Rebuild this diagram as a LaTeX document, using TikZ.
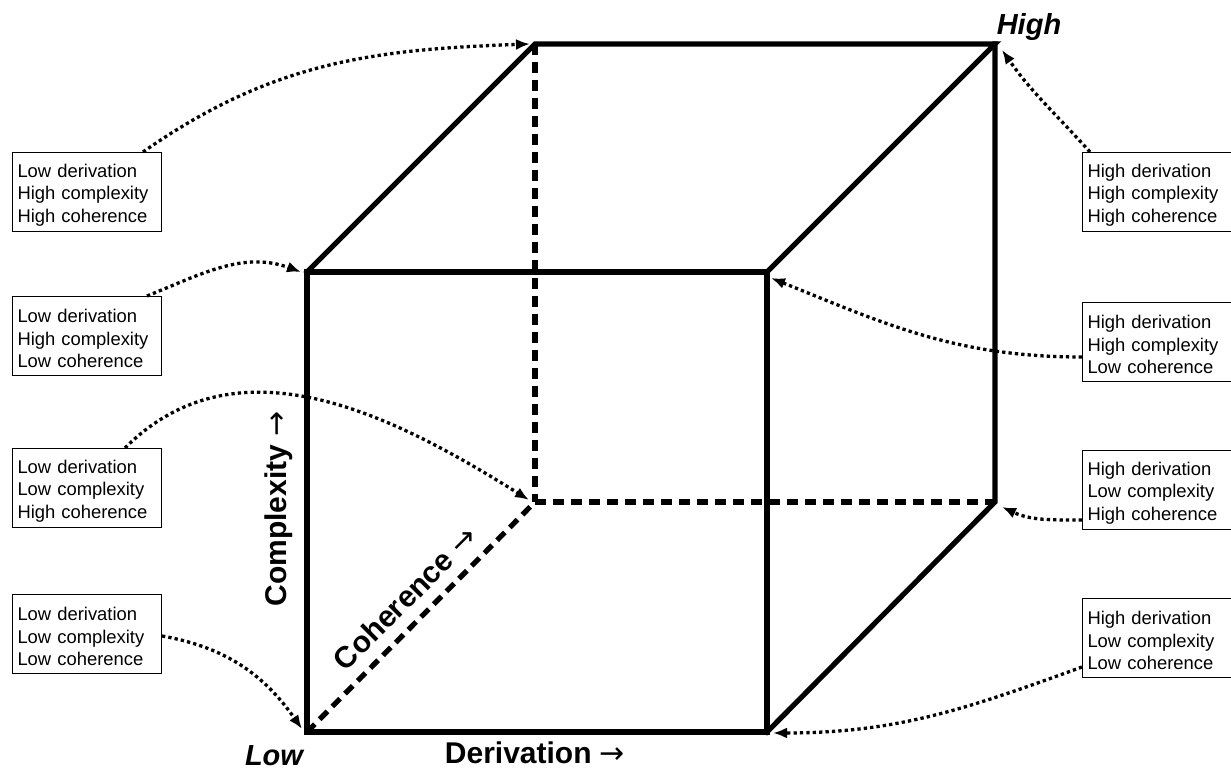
\documentclass[tikz,border=0pt]{standalone}
\usepackage{fontspec}
\setmainfont{Liberation Sans}
\newfontfamily\arrowfont{DejaVu Sans}
\usetikzlibrary{arrows.meta}
\newcommand{\toppad}{\rule{0pt}{19pt}}
\begin{document}
\begin{tikzpicture}[x=1pt,y=1pt,
  edge/.style={line width=5.2pt, line cap=rect, line join=miter},
  hidden/.style={line width=5.2pt, dash pattern=on 11pt off 7pt},
  infobox/.style={draw, line width=1pt, anchor=north west, minimum width=149pt, minimum height=79pt,
     inner xsep=5pt, inner ysep=0pt, align=left, text width=139pt,
     font=\fontsize{18.4}{22.5}\selectfont},
  pointer/.style={line width=3.3pt, dash pattern=on 3.3pt off 3.1pt,
     -{Latex[length=14pt,width=11pt]}},
  axis/.style={font=\fontsize{30}{32}\selectfont\bfseries, inner sep=1pt},
  extreme/.style={font=\fontsize{29}{31}\selectfont\bfseries\itshape, inner sep=1pt}]
\useasboundingbox (0,0) rectangle (1231,770);
% cube corners
\coordinate (A) at (307,38);
\coordinate (B) at (767,38);
\coordinate (C) at (307,498);
\coordinate (D) at (767,498);
\coordinate (E) at (535,726);
\coordinate (F) at (995,726);
\coordinate (G) at (535,268);
\coordinate (H) at (995,268);
% hidden edges
\draw[hidden] (E) -- (G);
\draw[hidden] (G) -- (H);
\draw[hidden] (A) -- (G);
% visible edges
\draw[edge] (A) -- (B) -- (D) -- (C) -- cycle;
\draw[edge] (C) -- (E) -- (F) -- (D);
\draw[edge] (F) -- (H) -- (B);
% boxes
\node[infobox] (b1) at (12,618) {\toppad Low derivation\\High complexity\\High coherence};
\node[infobox] (b2) at (12,474) {\toppad Low derivation\\High complexity\\Low coherence};
\node[infobox] (b3) at (12,322) {\toppad Low derivation\\Low complexity\\High coherence};
\node[infobox] (b4) at (12,176) {\toppad Low derivation\\Low complexity\\Low coherence};
\node[infobox] (r1) at (1082,618) {\toppad High derivation\\High complexity\\High coherence};
\node[infobox] (r2) at (1082,468) {\toppad High derivation\\High complexity\\Low coherence};
\node[infobox] (r3) at (1082,320) {\toppad High derivation\\Low complexity\\High coherence};
\node[infobox] (r4) at (1082,172) {\toppad High derivation\\Low complexity\\Low coherence};
% labels
\node[axis, rotate=90] (lcomp) at (279,261) {Complexity {\arrowfont\mdseries →}};
\node[axis, rotate=45] (lcoh) at (405,172) {Coherence {\arrowfont\mdseries →}};
\node[axis, anchor=base] (lder) at (535,6) {Derivation {\arrowfont\mdseries →}};
\node[extreme, anchor=base] (llow) at (274,4) {Low};
\node[extreme] (lhigh) at (1029,743) {High};
% pointer target coordinates
\coordinate (tE) at (530,726);
\coordinate (tC) at (301,498);
\coordinate (tG) at (529,270);
\coordinate (tA) at (302,41);
\coordinate (tF) at (1002,720);
\coordinate (tD) at (771,492);
\coordinate (tH) at (1002,263);
\coordinate (tB) at (773,37);
% pointers
\draw[pointer] ([xshift=-19pt]b1.north east) to[out=35, in=182] (tE);
\draw[pointer] ([xshift=-15pt]b2.north east) to[out=22, in=160] (tC);
\draw[pointer] ([xshift=-37pt]b3.north east) to[out=45, in=148] (tG);
\draw[pointer] ([yshift=-2pt]b4.east) to[out=-10, in=125] (tA);
\draw[pointer] ([xshift=8pt]r1.north west) to[out=132, in=-55] (tF);
\draw[pointer] ([yshift=-15pt]r2.west) to[out=180, in=-22] (tD);
\draw[pointer] ([yshift=-30pt]r3.west) to[out=180, in=-25] (tH);
\draw[pointer] ([yshift=-29pt]r4.west) to[out=200, in=0] (tB);
\end{tikzpicture}
\end{document}
